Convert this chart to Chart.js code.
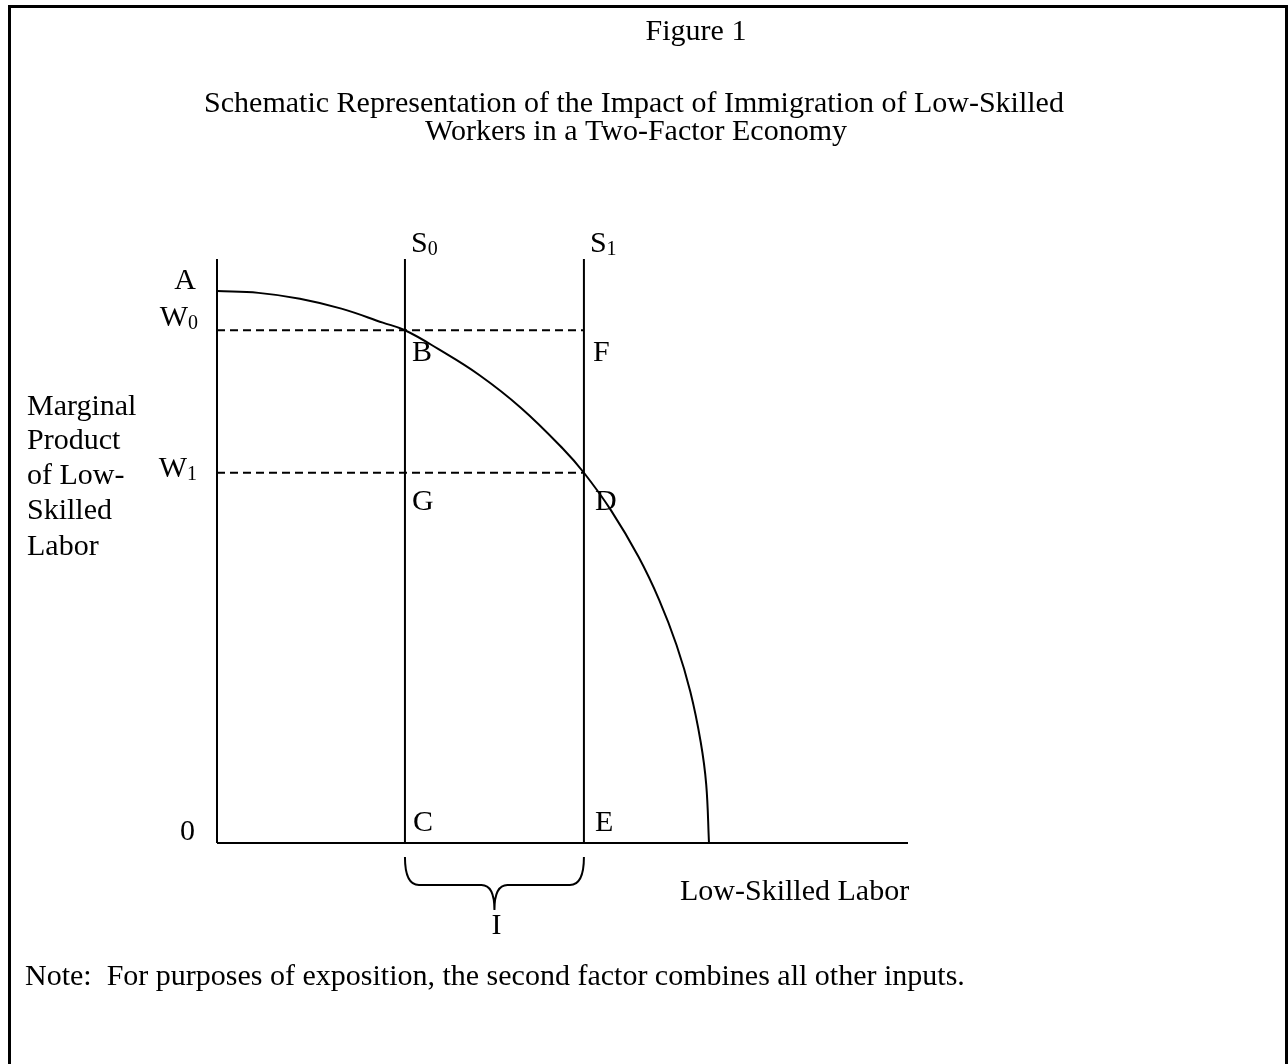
<!DOCTYPE html>
<html>
<head>
<meta charset="utf-8">
<script src="https://cdn.jsdelivr.net/npm/chart.js@4"></script>
<style>
  body { margin: 0; background: #fff; }
  canvas { display: block; }
</style>
</head>
<body>
<canvas id="fig1" width="1288" height="1064"></canvas>
<script>
// marginal product curve (axis units 0-100)
const curveX = [0, 6, 12, 18, 24, 27.2, 32, 38, 44, 50, 53.1, 57, 61, 64, 66.5, 68.5, 70, 70.8, 71.2];
const curveY = [94.5, 94.2, 93.2, 91.5, 89.1, 87.8, 84.6, 80.1, 74.5, 67.6, 63.4, 57.0, 49.0, 41.6, 33.9, 25.9, 17.3, 10.0, 0];

// supply lines S0, S1 and wages W0, W1
const supplyX = [27.2, 53.1];
const supplyNames = ['S', 'S'];
const supplySubs = ['0', '1'];
const wageY = [87.8, 63.4];
const wageSubs = ['0', '1'];

const axisMax = 100;

const titleText = 'Figure 1';
const subtitleLines = [
    'Schematic Representation of the Impact of Immigration of Low-Skilled',
    'Workers in a Two-Factor Economy'
];
const yTitleLines = ['Marginal', 'Product', 'of Low-', 'Skilled', 'Labor'];
const xTitle = 'Low-Skilled Labor';
const noteText = 'Note:  For purposes of exposition, the second factor combines all other inputs.';

const FONT = '"Liberation Serif", "Times New Roman", serif';

function pts(xs, ys) {
    return xs.map((x, i) => ({ x: x, y: ys[i] }));
}

const lineStyle = {
    showLine: true,
    pointRadius: 0,
    borderColor: '#000',
    borderWidth: 2,
    fill: false,
    clip: false
};

const datasets = [
    // axes
    Object.assign({}, lineStyle, { data: pts([0, 0], [0, axisMax]) }),
    Object.assign({}, lineStyle, { data: pts([0, axisMax], [0, 0]) }),
    // curve
    Object.assign({}, lineStyle, {
        data: pts(curveX, curveY),
        tension: 0.4
    })
];
supplyX.forEach(sx => {
    datasets.push(Object.assign({}, lineStyle, { data: pts([sx, sx], [0, axisMax]) }));
});
wageY.forEach(wy => {
    datasets.push(Object.assign({}, lineStyle, {
        data: pts([0, supplyX[1]], [wy, wy]),
        borderDash: [8, 5]
    }));
});

function text(ctx, s, x, y, size, align) {
    ctx.font = size + 'px ' + FONT;
    ctx.textAlign = align || 'left';
    ctx.fillText(s, x, y);
}

// letter with subscript
function subText(ctx, s, sub, x, y, align) {
    ctx.font = '30px ' + FONT;
    const w1 = ctx.measureText(s).width;
    ctx.font = '20px ' + FONT;
    const w2 = ctx.measureText(sub).width;
    let left = align === 'right' ? x - w1 - w2 : x;
    text(ctx, s, left, y, 30);
    text(ctx, sub, left + w1, y + 3, 20);
}

const decorations = {
    id: 'decorations',
    afterDraw(chart) {
        const ctx = chart.ctx;
        const xs = chart.scales.x, ys = chart.scales.y;
        ctx.save();
        ctx.fillStyle = '#000';
        ctx.strokeStyle = '#000';
        ctx.textBaseline = 'alphabetic';

        // frame
        ctx.lineWidth = 3;
        ctx.strokeRect(9.5, 6.5, 1277, 1100);

        // titles
        text(ctx, titleText, 696, 40, 30, 'center');
        text(ctx, subtitleLines[0], 634, 112, 30, 'center');
        text(ctx, subtitleLines[1], 636, 140, 30, 'center');

        // y-axis title
        const yl = [415, 449, 484, 519, 555];
        yTitleLines.forEach((s, i) => text(ctx, s, 27, yl[i], 30));

        const x0 = xs.getPixelForValue(0);
        const y0 = ys.getPixelForValue(0);
        const s0 = xs.getPixelForValue(supplyX[0]);
        const s1 = xs.getPixelForValue(supplyX[1]);
        const w0 = ys.getPixelForValue(wageY[0]);
        const w1 = ys.getPixelForValue(wageY[1]);
        const a = ys.getPixelForValue(curveY[0]);

        text(ctx, 'A', x0 - 21, a - 2, 30, 'right');
        subText(ctx, 'W', wageSubs[0], x0 - 19, w0 - 4, 'right');
        subText(ctx, 'W', wageSubs[1], x0 - 20, w1 + 4, 'right');
        text(ctx, '0', x0 - 22, y0 - 3, 30, 'right');

        subText(ctx, supplyNames[0], supplySubs[0], s0 + 6, 252);
        subText(ctx, supplyNames[1], supplySubs[1], s1 + 6, 252);

        text(ctx, 'B', s0 + 7, w0 + 31, 30);
        text(ctx, 'F', s1 + 9, w0 + 31, 30);
        text(ctx, 'G', s0 + 7, w1 + 37, 30);
        text(ctx, 'D', s1 + 11, w1 + 37, 30);
        text(ctx, 'C', s0 + 8, y0 - 12, 30);
        text(ctx, 'E', s1 + 11, y0 - 12, 30);

        // brace under the immigration interval
        const top = y0 + 14, mid = y0 + 42, tip = y0 + 67;
        const cx = (s0 + s1) / 2;
        ctx.lineWidth = 2;
        ctx.beginPath();
        ctx.moveTo(s0, top);
        ctx.quadraticCurveTo(s0, mid, s0 + 14, mid);
        ctx.lineTo(cx - 13, mid);
        ctx.quadraticCurveTo(cx, mid, cx, tip);
        ctx.quadraticCurveTo(cx, mid, cx + 13, mid);
        ctx.lineTo(s1 - 14, mid);
        ctx.quadraticCurveTo(s1, mid, s1, top);
        ctx.stroke();
        text(ctx, 'I', cx + 2, y0 + 91, 30, 'center');

        text(ctx, xTitle, 680, y0 + 57, 30);
        text(ctx, noteText, 25, 985, 30);
        ctx.restore();
    }
};

new Chart(document.getElementById('fig1'), {
    type: 'scatter',
    data: { datasets: datasets },
    options: {
        responsive: false,
        animation: false,
        layout: { padding: { left: 217, right: 380, top: 259, bottom: 221 } },
        scales: {
            x: { type: 'linear', min: 0, max: axisMax, display: false },
            y: { type: 'linear', min: 0, max: axisMax, display: false }
        },
        plugins: {
            legend: { display: false },
            tooltip: { enabled: false }
        }
    },
    plugins: [decorations]
});
</script>
</body>
</html>
